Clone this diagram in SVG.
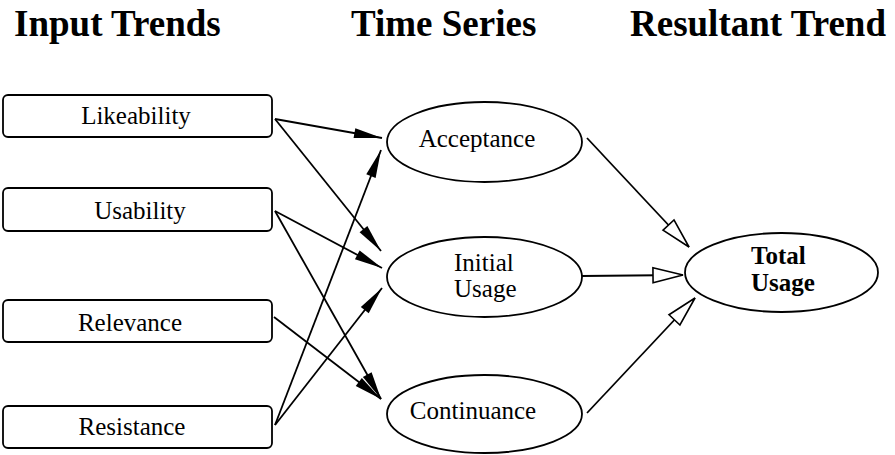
<svg xmlns="http://www.w3.org/2000/svg" width="895" height="455" viewBox="0 0 895 455">
<style>
.hdr{font-family:"Liberation Serif","Noto Serif","DejaVu Serif",serif;font-weight:bold;font-size:37px;fill:#000}
.lbl{font-family:"Liberation Serif","Noto Serif","DejaVu Serif",serif;font-weight:normal;font-size:25px;fill:#000}
.bold{font-weight:bold}
.box{fill:#fff;stroke:#000;stroke-width:1.8}
.ell{fill:#fff;stroke:#000;stroke-width:1.8}
.c{stroke:#000;stroke-width:1.8;fill:none}
.f{marker-end:url(#solid)}
.o{marker-end:url(#open)}
</style>
<defs>
<marker id="solid" markerUnits="userSpaceOnUse" markerWidth="30" markerHeight="12" refX="28" refY="5" orient="auto" overflow="visible">
<path d="M0,0 L28,5 L0,10 Z" fill="#000" stroke="none"/>
</marker>
<marker id="open" markerUnits="userSpaceOnUse" markerWidth="32" markerHeight="18" refX="30" refY="7.5" orient="auto" overflow="visible">
<path d="M0,0 L30,7.5 L0,15 Z" fill="#fff" stroke="#000" stroke-width="1.6"/>
</marker>
</defs>
<rect width="895" height="455" fill="#fff"/>
<text class="hdr" x="14" y="36">Input Trends</text>
<text class="hdr" x="351" y="36">Time Series</text>
<text class="hdr" x="630" y="36">Resultant Trend</text>
<g id="connectors">
<line class="c f" x1="275" y1="119" x2="382" y2="138"/>
<line class="c f" x1="275" y1="119" x2="381" y2="251"/>
<line class="c f" x1="275" y1="211" x2="382" y2="268"/>
<line class="c f" x1="275" y1="211" x2="381" y2="399"/>
<line class="c f" x1="274" y1="317" x2="381" y2="399"/>
<line class="c f" x1="275" y1="425" x2="381" y2="150"/>
<line class="c f" x1="275" y1="425" x2="382" y2="288"/>
<line class="c o" x1="587" y1="138" x2="689" y2="247"/>
<line class="c o" x1="582" y1="276" x2="683" y2="275"/>
<line class="c o" x1="587" y1="413" x2="695" y2="298"/>
</g>
<g id="likeability"><rect class="box" x="3" y="95" width="269" height="42" rx="5"/><text class="lbl" x="136" y="124" text-anchor="middle">Likeability</text></g>
<g id="usability"><rect class="box" x="3" y="188" width="269" height="43" rx="5"/><text class="lbl" x="140" y="219" text-anchor="middle">Usability</text></g>
<g id="relevance"><rect class="box" x="3" y="300" width="269" height="42" rx="5"/><text class="lbl" x="130" y="331" text-anchor="middle">Relevance</text></g>
<g id="resistance"><rect class="box" x="3" y="406" width="269" height="42" rx="5"/><text class="lbl" x="132" y="435" text-anchor="middle">Resistance</text></g>
<g id="acceptance"><ellipse class="ell" cx="484.5" cy="142" rx="97.5" ry="40"/><text class="lbl" x="477" y="147" text-anchor="middle">Acceptance</text></g>
<g id="initial-usage"><ellipse class="ell" cx="484.5" cy="277" rx="97.5" ry="40"/><text class="lbl" x="454" y="271">Initial</text><text class="lbl" x="454" y="297">Usage</text></g>
<g id="continuance"><ellipse class="ell" cx="484.5" cy="414" rx="97.5" ry="39"/><text class="lbl" x="473" y="419" text-anchor="middle">Continuance</text></g>
<g id="total-usage"><ellipse class="ell" cx="781.5" cy="272.5" rx="96.5" ry="39.5"/><text class="lbl bold" x="751" y="264">Total</text><text class="lbl bold" x="751" y="291">Usage</text></g>
</svg>
